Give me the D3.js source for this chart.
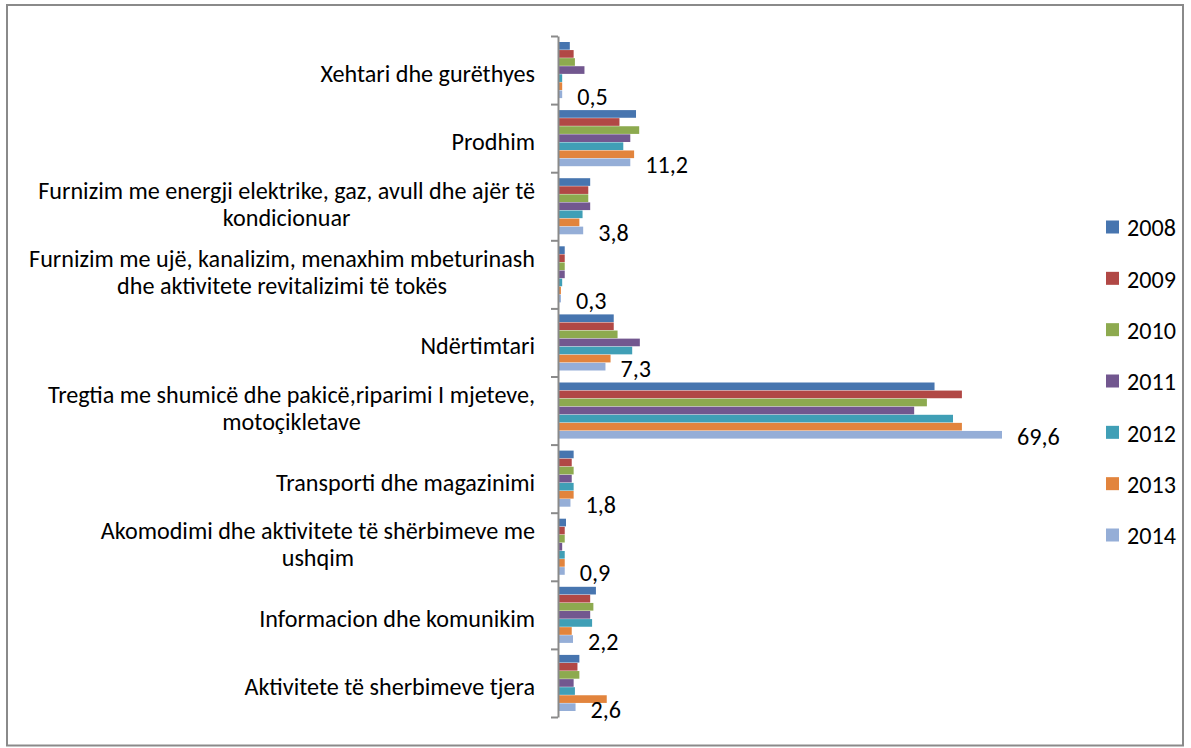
<!DOCTYPE html>
<html>
<head>
<meta charset="utf-8">
<script src="https://cdn.jsdelivr.net/npm/d3@7"></script>
<style>
  html, body { margin: 0; padding: 0; background: #fff; }
  svg { display: block; }
  text { font-family: Carlito, Calibri, "Liberation Sans Narrow", "Arial Narrow", "DejaVu Sans Condensed", "Liberation Sans", sans-serif; fill: #000; }
</style>
</head>
<body>
<svg id="chart" width="1191" height="748"></svg>
<script>
// ---- data ----
const categories = [
  "Xehtari dhe gurëthyes",
  "Prodhim",
  "Furnizim me energji elektrike, gaz, avull dhe ajër të\nkondicionuar",
  "Furnizim me ujë, kanalizim, menaxhim mbeturinash\ndhe aktivitete revitalizimi të tokës",
  "Ndërtimtari",
  "Tregtia me shumicë dhe pakicë,riparimi I mjeteve,\nmotoçikletave",
  "Transporti dhe magazinimi",
  "Akomodimi dhe aktivitete të shërbimeve me\nushqim",
  "Informacion dhe komunikim",
  "Aktivitete të sherbimeve tjera"
];
const years = ["2008", "2009", "2010", "2011", "2012", "2013", "2014"];
const v2008 = [1.7, 12.1, 4.9, 0.9, 8.6, 59.0, 2.3, 1.1, 5.8, 3.2];
const v2009 = [2.3, 9.5, 4.6, 0.9, 8.6, 63.3, 2.0, 0.9, 4.9, 2.9];
const v2010 = [2.5, 12.6, 4.6, 0.9, 9.2, 57.8, 2.3, 0.9, 5.4, 3.2];
const v2011 = [4.0, 11.2, 4.9, 0.9, 12.7, 55.8, 2.0, 0.5, 4.9, 2.3];
const v2012 = [0.5, 10.1, 3.7, 0.5, 11.5, 61.9, 2.3, 0.9, 5.2, 2.5];
const v2013 = [0.5, 11.8, 3.2, 0.3, 8.1, 63.3, 2.3, 0.9, 2.0, 7.5];
const v2014 = [0.5, 11.2, 3.8, 0.3, 7.3, 69.6, 1.8, 0.9, 2.2, 2.6];
const seriesValues = [v2008, v2009, v2010, v2011, v2012, v2013, v2014];
const labelledSeries = "2014";
const colors = ["#4775AF", "#B14845", "#8DAA4F", "#72578F", "#409FB6", "#E2843D", "#95AED7"];

// ---- build ----
const svg = d3.select("#chart");
const W = 1191, H = 748;

svg.append("rect")
  .attr("x", 7).attr("y", 5).attr("width", 1176).attr("height", 740.5)
  .attr("fill", "#fff").attr("stroke", "#8a8a8a").attr("stroke-width", 2);

// fit font size to the reference text width
const probe = svg.append("text").attr("font-size", 100).text("Furnizim me energji elektrike, gaz, avull dhe ajër të");
const fs = 100 * 497 / probe.node().getComputedTextLength();
probe.remove();

const x = d3.scaleLinear().domain([0, 80]).range([559, 1068.2]);
const y = d3.scaleBand().domain(categories).range([36, 717]);
const y1 = d3.scaleBand().domain(years).range([6, y.bandwidth() - 6]).paddingInner(0.05);
const color = d3.scaleOrdinal().domain(years).range(colors);

const rows = categories.map((c, i) => ({
  cat: c,
  vals: years.map((yr, j) => ({ year: yr, value: seriesValues[j][i] }))
}));

// bars
const groups = svg.append("g").selectAll("g").data(rows).join("g")
  .attr("transform", d => `translate(0,${y(d.cat)})`);
groups.selectAll("rect").data(d => d.vals).join("rect")
  .attr("x", x(0))
  .attr("y", d => y1(d.year))
  .attr("width", d => x(d.value) - x(0))
  .attr("height", y1.bandwidth())
  .attr("fill", d => color(d.year));

// axis (band boundaries as ticks)
const yIdx = d3.scaleLinear().domain([0, categories.length]).range([36, 717]);
const axis = d3.axisLeft(yIdx).ticks(categories.length).tickFormat("").tickSizeInner(7).tickSizeOuter(0);
const ax = svg.append("g").attr("transform", `translate(${x(0) - 1},0)`).call(axis);
ax.selectAll("path, line").attr("stroke", "#8a8a8a").attr("stroke-width", 2);

// category labels
const fmt = v => d3.format(".1f")(v).replace(".", ",");
const lineH = 27;
svg.append("g").selectAll("text").data(categories).join("text")
  .attr("font-size", fs)
  .attr("text-anchor", "middle")
  .each(function(c) {
    const lines = c.split("\n");
    const t = d3.select(this);
    const cy = y(c) + y.bandwidth() / 2;
    const n = lines.length;
    const mid = n === 1 ? cy + 3.5 : cy - 2.5;
    // measure widest line to right-align the block at 535
    lines.forEach((ln, k) => {
      t.append("tspan").text(ln)
        .attr("y", mid + (k - (n - 1) / 2) * lineH + 0.35 * fs);
    });
    let wmax = 0;
    t.selectAll("tspan").each(function() { wmax = Math.max(wmax, this.getComputedTextLength()); });
    t.selectAll("tspan").attr("x", 535 - wmax / 2);
  });

// data labels for 2014
const li = years.indexOf(labelledSeries);
svg.append("g").selectAll("text").data(rows).join("text")
  .attr("font-size", fs)
  .attr("x", d => x(d.vals[li].value) + 15)
  .attr("y", d => y(d.cat) + y1(labelledSeries) + y1.bandwidth() / 2 + 2 + 0.35 * fs)
  .text(d => fmt(d.vals[li].value));

// legend
const ly = d3.scalePoint().domain(years).range([227, 535]);
const leg = svg.append("g").selectAll("g").data(years).join("g")
  .attr("transform", d => `translate(1106,${ly(d)})`);
leg.append("rect").attr("x", 0).attr("y", -6.5).attr("width", 13).attr("height", 13).attr("fill", d => color(d));
leg.append("text").attr("x", 21).attr("y", 0.35 * fs + 1).attr("font-size", fs).text(d => d);
</script>
</body>
</html>
